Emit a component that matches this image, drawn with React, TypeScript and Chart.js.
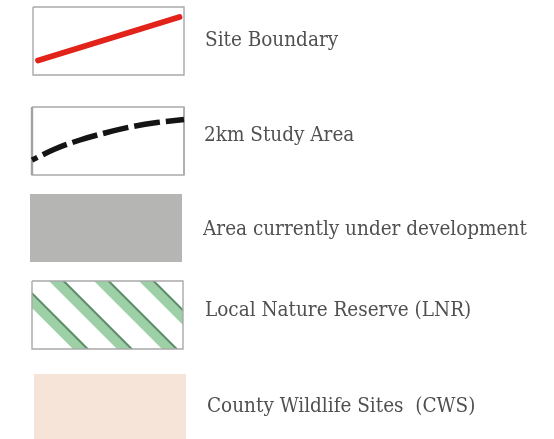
import React, { useEffect, useRef } from "react";
import { Chart, registerables } from "chart.js";
Chart.register(...registerables);

// Legend entries
const labels = [
  "Site Boundary",
  "2km Study Area",
  "Area currently under development",
  "Local Nature Reserve (LNR)",
  "County Wildlife Sites  (CWS)",
];
const labelX = [205, 204, 203, 205, 207];
const labelY = [46, 141, 235, 316, 412];

// Swatch boxes (data units = pixels of the legend sheet)
const boxLeft = [33, 32, 30, 32, 34];
const boxRight = [184, 184, 182, 183, 186];
const boxTop = [7, 107, 194, 281, 374];
const boxBottom = [75, 175, 262, 349, 439];

// Site boundary sample line
const boundaryX = [38, 179.5];
const boundaryY = [60.5, 17];

// 2km study area sample curve
const studyX = [32, 55, 80, 105, 130, 157, 184];
const studyY = [160, 149, 140, 133, 127, 122.5, 119.5];

// LNR hatch stripes: value of (x - y) along the right edge of each stripe
const stripeEdge = [-260, -216, -171, -126];

const W = 554;
const H = 439;

function pts(xs: number[], ys: number[]) {
  return xs.map((x, i) => ({ x, y: ys[i] }));
}
function rectOutline(i: number) {
  return [
    { x: boxLeft[i], y: boxTop[i] },
    { x: boxRight[i], y: boxTop[i] },
    { x: boxRight[i], y: boxBottom[i] },
    { x: boxLeft[i], y: boxBottom[i] },
    { x: boxLeft[i], y: boxTop[i] },
  ];
}
function edge(i: number, y: number) {
  return [
    { x: boxLeft[i], y },
    { x: boxRight[i], y },
  ];
}
function diag(c: number, i: number) {
  const x0 = boxLeft[i] - 30;
  const x1 = boxRight[i] + 30;
  return [
    { x: x0, y: x0 - c },
    { x: x1, y: x1 - c },
  ];
}
function boxClip(i: number) {
  return {
    left: -boxLeft[i],
    top: -boxTop[i],
    right: -(W - boxRight[i]),
    bottom: -(H - boxBottom[i]),
  };
}

export default function App() {
  const ref = useRef<HTMLCanvasElement | null>(null);
  useEffect(() => {
    document.body.style.margin = "0";
    if (!ref.current) return;
    const base = { pointRadius: 0, pointHoverRadius: 0, tension: 0 };
    const fillPair = (i: number, color: any, order: number) => [
      {
        ...base,
        data: edge(i, boxTop[i]),
        borderWidth: 0,
        borderColor: "rgba(0,0,0,0)",
        backgroundColor: color,
        fill: "+1",
        order,
      },
      {
        ...base,
        data: edge(i, boxBottom[i]),
        borderWidth: 0,
        borderColor: "rgba(0,0,0,0)",
        fill: false,
        order,
      },
    ];
    const stripes = stripeEdge.flatMap((c) => [
      {
        ...base,
        data: diag(c - 8, 3),
        borderColor: "#9dd0a6",
        borderWidth: 11.3,
        borderCapStyle: "butt",
        fill: false,
        clip: boxClip(3),
        order: 8,
      },
      {
        ...base,
        data: diag(c - 1.4, 3),
        borderColor: "#5f8d6b",
        borderWidth: 2.0,
        borderCapStyle: "butt",
        fill: false,
        clip: boxClip(3),
        order: 7,
      },
    ]);
    const textPlugin = {
      id: "legendText",
      afterDatasetsDraw(chart: any) {
        const { ctx, scales } = chart;
        ctx.save();
        ctx.fillStyle = "#505050";
        ctx.font = "20.5px 'DejaVu Serif Condensed', 'DejaVu Serif', serif";
        ctx.textBaseline = "alphabetic";
        ctx.textAlign = "left";
        labels.forEach((l, i) => {
          ctx.fillText(l, scales.x.getPixelForValue(labelX[i]), scales.y.getPixelForValue(labelY[i]));
        });
        ctx.restore();
      },
    };
    const chart = new Chart(ref.current, {
      type: "line",
      data: {
        datasets: [
          ...fillPair(2, "#b5b5b4", 10),
          ...fillPair(4, "#f7e4d8", 10),
          ...stripes,
          ...[0, 1, 3].map((i) => ({
            ...base,
            data: rectOutline(i),
            borderColor: "#a9a9a9",
            borderWidth: 1.4,
            fill: false,
            order: 5,
          })),
          {
            ...base,
            data: [
              { x: boxLeft[1], y: boxTop[1] },
              { x: boxLeft[1], y: boxBottom[1] },
            ],
            borderColor: "#a3a3a3",
            borderWidth: 2.4,
            fill: false,
            order: 4,
          },
          {
            ...base,
            data: [
              { x: boxRight[1], y: boxTop[1] },
              { x: boxRight[1], y: boxBottom[1] },
            ],
            borderColor: "#b0b0b0",
            borderWidth: 2,
            fill: false,
            order: 4,
          },
          {
            ...base,
            data: pts(boundaryX, boundaryY),
            borderColor: "#e2231a",
            borderWidth: 5.8,
            borderCapStyle: "round",
            fill: false,
            order: 1,
          },
          {
            ...base,
            data: pts(studyX, studyY),
            borderColor: "#141414",
            borderWidth: 5.5,
            borderDash: [26, 6],
            borderDashOffset: 20,
            borderCapStyle: "butt",
            cubicInterpolationMode: "monotone",
            fill: false,
            order: 1,
          },
        ] as any,
      },
      options: {
        responsive: false,
        animation: false,
        events: [],
        layout: { padding: 0 },
        plugins: { legend: { display: false }, tooltip: { enabled: false }, title: { display: false } },
        scales: {
          x: { type: "linear", min: 0, max: W, display: false },
          y: { type: "linear", min: 0, max: H, reverse: true, display: false },
        },
      },
      plugins: [textPlugin],
    });
    return () => chart.destroy();
  }, []);
  return (
    <div style={{ width: W, height: H, background: "#fff" }}>
      <canvas ref={ref} width={W} height={H} style={{ display: "block" }} />
    </div>
  );
}
